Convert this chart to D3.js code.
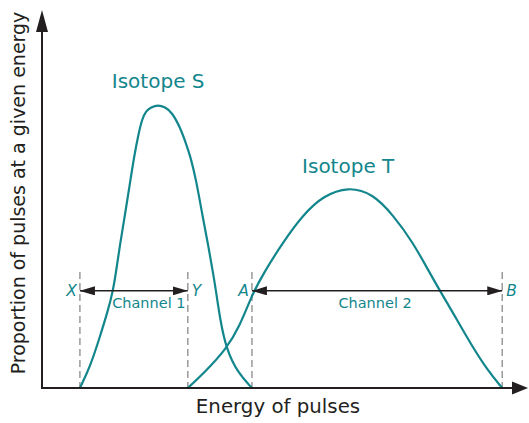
<!DOCTYPE html>
<html>
<head>
<meta charset="utf-8">
<script src="https://cdn.jsdelivr.net/npm/d3@7"></script>
<style>
  html, body { margin: 0; padding: 0; background: #ffffff; }
  svg { display: block; font-family: "DejaVu Sans", "Liberation Sans", sans-serif; }
</style>
</head>
<body>
<svg id="chart" width="529" height="423"></svg>
<script>
// Pulse-height spectra (relative energy 0–100, relative proportion 0–100)
const energyS     = [7.8, 9.9, 11.9, 13.6, 14.6, 15.2, 16.0, 17.1, 18.1, 18.9, 19.8, 20.6, 21.4, 22.4, 23.9, 25.3, 26.7, 28.4, 29.6, 30.5, 31.7, 33.1, 34.2, 35.2, 35.8, 36.6, 37.9, 40.3, 43.2];
const proportionS = [0, 5.6, 13.5, 20.6, 25.7, 30.4, 37.6, 46.0, 54.2, 60.8, 66.9, 71.2, 73.3, 74.3, 74.9, 74.3, 73.0, 69.0, 64.8, 61.4, 55.2, 45.0, 37.8, 30.4, 25.7, 18.5, 10.3, 4.0, 0];

const energyT     = [30.0, 33.5, 37.9, 40.7, 43.2, 45.5, 49.6, 53.7, 57.8, 63.0, 68.1, 72.2, 76.3, 79.8, 81.9, 84.6, 88.1, 91.6, 94.7];
const proportionT = [0, 4.2, 10.3, 16.4, 24.6, 30.2, 38.6, 45.8, 50.8, 53.3, 51.4, 45.8, 38.6, 30.4, 25.7, 19.8, 11.9, 4.8, 0];

const seriesNames = ["Isotope S", "Isotope T"];

// Discriminator levels and the channels they bound
const levelNames    = ["X", "Y", "A", "B"];
const levelEnergies = [7.8, 30.0, 43.2, 94.7];
const channelNames  = ["Channel 1", "Channel 2"];
const channelFrom   = ["X", "A"];
const channelTo     = ["Y", "B"];
const channelLevel  = 25.7;   // proportion at which the channel arrows sit
const markerTop     = 30.7;   // top of the dashed level markers

const xTitle = "Energy of pulses";
const yTitle = "Proportion of pulses at a given energy";

const teal = "#12868c";
const ink  = "#231f20";

const svg = d3.select("#chart");

const x = d3.scaleLinear().domain([0, 100]).range([42, 528]);
const y = d3.scaleLinear().domain([0, 100]).range([388, 10]);

const defs = svg.append("defs");
function arrowMarker(id, len, half) {
  defs.append("marker")
    .attr("id", id)
    .attr("markerUnits", "userSpaceOnUse")
    .attr("viewBox", `0 ${-half} ${len} ${2 * half}`)
    .attr("refX", len).attr("refY", 0)
    .attr("markerWidth", len).attr("markerHeight", 2 * half)
    .attr("orient", "auto-start-reverse")
    .append("path")
    .attr("d", `M0,${-half}L${len},0L0,${half}Z`)
    .attr("fill", ink);
}
arrowMarker("chanArrow", 15, 4.5);

// Dashed discriminator levels
const levelX = name => x(levelEnergies[levelNames.indexOf(name)]);
svg.append("g").selectAll("line")
  .data(levelNames)
  .join("line")
  .attr("x1", d => levelX(d)).attr("x2", d => levelX(d))
  .attr("y1", y(markerTop)).attr("y2", y(0))
  .attr("stroke", "#9a9a9a")
  .attr("stroke-width", 1.5)
  .attr("stroke-dasharray", "7,4");

// Spectrum curves (B-spline through the sampled spectrum)
const line = d3.line()
  .x(d => x(d[0]))
  .y(d => y(d[1]))
  .curve(d3.curveBasis);

const spectra = [
  d3.zip(energyS, proportionS),
  d3.zip(energyT, proportionT)
];

svg.append("g").selectAll("path")
  .data(spectra)
  .join("path")
  .attr("d", line)
  .attr("fill", "none")
  .attr("stroke", teal)
  .attr("stroke-width", 2.2)
  .attr("stroke-linejoin", "round");

// Series labels above each peak
const peakOf = s => s.reduce((a, b) => (b[1] > a[1] ? b : a));
const labelLift = [17, 14];
svg.append("g").selectAll("text")
  .data(spectra)
  .join("text")
  .attr("x", d => x(peakOf(d)[0]))
  .attr("y", (d, i) => y(peakOf(d)[1]) - labelLift[i])
  .attr("text-anchor", "middle")
  .attr("fill", teal)
  .attr("font-size", 20)
  .text((d, i) => seriesNames[i]);

// Channel arrows
const chanG = svg.append("g");
channelNames.forEach((name, i) => {
  const x0 = levelX(channelFrom[i]);
  const x1 = levelX(channelTo[i]);
  chanG.append("line")
    .attr("x1", x0).attr("x2", x1)
    .attr("y1", y(channelLevel)).attr("y2", y(channelLevel))
    .attr("stroke", ink)
    .attr("stroke-width", 1.5)
    .attr("marker-start", "url(#chanArrow)")
    .attr("marker-end", "url(#chanArrow)");
  const shift = i === 0 ? 15 : -2;
  chanG.append("text")
    .attr("x", (x0 + x1) / 2 + shift)
    .attr("y", y(channelLevel) + 17)
    .attr("text-anchor", "middle")
    .attr("fill", teal)
    .attr("font-size", 14.5)
    .text(name);
});

// Level letters: lower bounds to the left, upper bounds to the right
svg.append("g").selectAll("text")
  .data(levelNames)
  .join("text")
  .attr("x", d => channelFrom.includes(d) ? levelX(d) - 3 : levelX(d) + 4)
  .attr("y", y(channelLevel) + 5.5)
  .attr("text-anchor", d => channelFrom.includes(d) ? "end" : "start")
  .attr("fill", teal)
  .attr("font-size", 15.5)
  .attr("font-style", "italic")
  .text(d => d);

// Axes with arrowheads
const [xa, xb] = x.range();
const [ya, yb] = y.range();
const axes = svg.append("g").attr("fill", ink).attr("stroke", ink);
axes.append("line")
  .attr("x1", xa).attr("x2", xa)
  .attr("y1", ya + 1).attr("y2", yb + 18)
  .attr("stroke-width", 2);
axes.append("path")
  .attr("d", `M${xa},${yb}L${xa + 6},${yb + 22}L${xa - 6},${yb + 22}Z`)
  .attr("stroke", "none");
axes.append("line")
  .attr("x1", xa - 1).attr("x2", xb - 12)
  .attr("y1", ya).attr("y2", ya)
  .attr("stroke-width", 2);
axes.append("path")
  .attr("d", `M${xb},${ya}L${xb - 16},${ya - 6.5}L${xb - 16},${ya + 6.5}Z`)
  .attr("stroke", "none");

// Axis titles
svg.append("text")
  .attr("x", 278)
  .attr("y", 413)
  .attr("text-anchor", "middle")
  .attr("fill", ink)
  .attr("font-size", 19.8)
  .text(xTitle);

svg.append("text")
  .attr("transform", `translate(25,${(ya + yb) / 2 - 6}) rotate(-90)`)
  .attr("text-anchor", "middle")
  .attr("fill", ink)
  .attr("font-size", 19)
  .text(yTitle);
</script>
</body>
</html>
